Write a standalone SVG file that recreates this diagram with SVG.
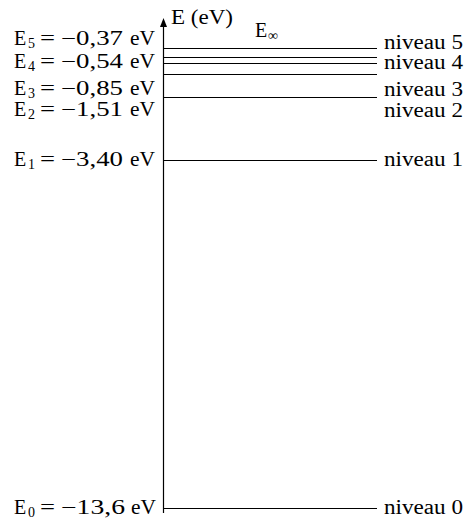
<svg xmlns="http://www.w3.org/2000/svg" width="468" height="521" viewBox="0 0 468 521">
<defs>
<style>
text{font-family:"Liberation Serif","DejaVu Serif",serif;font-size:20px;fill:#000}
.s{font-size:14px}
.lv{stroke:#000;stroke-width:1;fill:none}
</style>
</defs>
<rect width="468" height="521" fill="#fff"/>
<g id="connectors">
<line id="axis" x1="163.5" y1="513" x2="163.5" y2="24" stroke="#000" stroke-width="1.2"/>
<polygon id="axis-arrow" points="163.5,18 167,27 160,27" fill="#000"/>
</g>
<g id="axis-label"><text x="171" y="24" textLength="62" lengthAdjust="spacingAndGlyphs">E (eV)</text></g>
<g id="level-inf"><line class="lv" x1="164" y1="48.5" x2="377" y2="48.5" stroke-width="1.4"/><text x="255" y="37">E<tspan class="s" x="268" dy="3">∞</tspan></text></g>
<g id="level-5"><line class="lv" x1="164" y1="57.5" x2="377" y2="57.5"/><text x="384" y="49" textLength="79" lengthAdjust="spacingAndGlyphs">niveau 5</text><text x="14" y="45">E<tspan class="s" x="28" dy="3">5</tspan><tspan x="40" dy="-3" textLength="15" lengthAdjust="spacingAndGlyphs">=</tspan><tspan x="61" textLength="62" lengthAdjust="spacingAndGlyphs">−0,37</tspan><tspan x="130" textLength="25" lengthAdjust="spacingAndGlyphs">eV</tspan></text></g>
<g id="level-4"><line class="lv" x1="164" y1="63.5" x2="377" y2="63.5"/><text x="384" y="69" textLength="79" lengthAdjust="spacingAndGlyphs">niveau 4</text><text x="14" y="68">E<tspan class="s" x="28" dy="3">4</tspan><tspan x="40" dy="-3" textLength="15" lengthAdjust="spacingAndGlyphs">=</tspan><tspan x="61" textLength="62" lengthAdjust="spacingAndGlyphs">−0,54</tspan><tspan x="130" textLength="25" lengthAdjust="spacingAndGlyphs">eV</tspan></text></g>
<g id="level-3"><line class="lv" x1="164" y1="74.5" x2="377" y2="74.5"/><text x="384" y="96" textLength="79" lengthAdjust="spacingAndGlyphs">niveau 3</text><text x="14" y="95">E<tspan class="s" x="28" dy="3">3</tspan><tspan x="40" dy="-3" textLength="15" lengthAdjust="spacingAndGlyphs">=</tspan><tspan x="61" textLength="62" lengthAdjust="spacingAndGlyphs">−0,85</tspan><tspan x="130" textLength="25" lengthAdjust="spacingAndGlyphs">eV</tspan></text></g>
<g id="level-2"><line class="lv" x1="164" y1="97.5" x2="377" y2="97.5"/><text x="384" y="117" textLength="79" lengthAdjust="spacingAndGlyphs">niveau 2</text><text x="14" y="116">E<tspan class="s" x="28" dy="3">2</tspan><tspan x="40" dy="-3" textLength="15" lengthAdjust="spacingAndGlyphs">=</tspan><tspan x="61" textLength="62" lengthAdjust="spacingAndGlyphs">−1,51</tspan><tspan x="130" textLength="25" lengthAdjust="spacingAndGlyphs">eV</tspan></text></g>
<g id="level-1"><line class="lv" x1="164" y1="160.5" x2="377" y2="160.5"/><text x="384" y="166" textLength="79" lengthAdjust="spacingAndGlyphs">niveau 1</text><text x="14" y="166">E<tspan class="s" x="28" dy="3">1</tspan><tspan x="40" dy="-3" textLength="15" lengthAdjust="spacingAndGlyphs">=</tspan><tspan x="61" textLength="62" lengthAdjust="spacingAndGlyphs">−3,40</tspan><tspan x="130" textLength="25" lengthAdjust="spacingAndGlyphs">eV</tspan></text></g>
<g id="level-0"><line class="lv" x1="164" y1="508.5" x2="377" y2="508.5"/><text x="384" y="514" textLength="79" lengthAdjust="spacingAndGlyphs">niveau 0</text><text x="14" y="514">E<tspan class="s" x="28" dy="3">0</tspan><tspan x="40" dy="-3" textLength="15" lengthAdjust="spacingAndGlyphs">=</tspan><tspan x="61" textLength="64" lengthAdjust="spacingAndGlyphs">−13,6</tspan><tspan x="131" textLength="25" lengthAdjust="spacingAndGlyphs">eV</tspan></text></g>
</svg>
